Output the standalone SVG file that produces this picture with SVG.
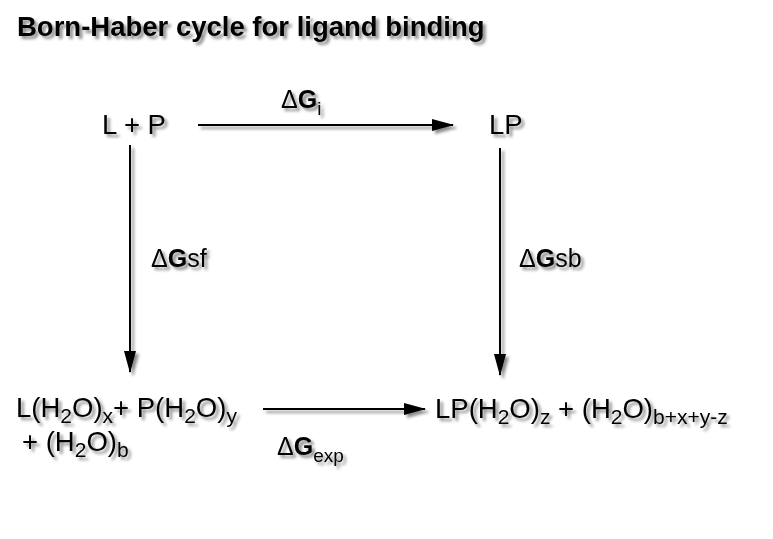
<svg xmlns="http://www.w3.org/2000/svg" width="773" height="539" viewBox="0 0 773 539">
<defs>
<filter id="sh" x="-10%" y="-30%" width="130%" height="180%">
<feDropShadow dx="3" dy="3" stdDeviation="1.8" flood-color="#000" flood-opacity="0.45"/>
</filter>
<marker id="ah" markerWidth="22" markerHeight="12" refX="21" refY="6" orient="auto" markerUnits="userSpaceOnUse">
<path d="M0,0 L22,6 L0,12 Z" fill="#000"/>
</marker>
</defs>
<style>
text{font-family:"Liberation Sans",Arial,sans-serif;fill:#000}
.t{font-size:27.5px}
.l{font-size:25px}
.b{font-weight:bold}
.s{font-size:21px}
.ls{font-size:19px}
.c{stroke:#000;stroke-width:2;fill:none;marker-end:url(#ah)}
</style>
<rect width="773" height="539" fill="#fff"/>
<g filter="url(#sh)">
<text id="title" x="17" y="36" class="b" font-size="27.5">Born-Haber cycle for ligand binding</text>
<g id="connectors">
<line class="c" x1="198" y1="125" x2="453" y2="125"/>
<line class="c" x1="130" y1="145" x2="130" y2="372"/>
<line class="c" x1="500" y1="148" x2="500" y2="375"/>
<line class="c" x1="263" y1="409" x2="425" y2="409"/>
</g>
<g id="n-lp-free"><text class="t" x="102" y="134">L + P</text></g>
<g id="n-lp"><text class="t" x="489" y="134">LP</text></g>
<g id="n-solv-free">
<text class="t" x="16" y="417">L(H<tspan class="s" dy="6">2</tspan><tspan dy="-6">O)</tspan><tspan class="s" dy="6">x</tspan><tspan dy="-6">+ P(H</tspan><tspan class="s" dy="6">2</tspan><tspan dy="-6">O)</tspan><tspan class="s" dy="6">y</tspan></text>
<text class="t" x="22" y="451">+ (H<tspan class="s" dy="6">2</tspan><tspan dy="-6">O)</tspan><tspan class="s" dy="6">b</tspan></text>
</g>
<g id="n-solv-lp">
<text class="t" x="435" y="418">LP(H<tspan class="s" dy="6">2</tspan><tspan dy="-6">O)</tspan><tspan class="s" dy="6">z</tspan><tspan dy="-6"> + (H</tspan><tspan class="s" dy="6">2</tspan><tspan dy="-6">O)</tspan><tspan class="s" dy="6" font-size="22px">b+x+y-z</tspan></text>
</g>
<g id="lbl-gi"><text class="l" x="281" y="108">Δ<tspan class="b">G</tspan><tspan class="ls" dy="7">i</tspan></text></g>
<g id="lbl-gsf"><text class="l" x="151" y="267">Δ<tspan class="b">G</tspan>sf</text></g>
<g id="lbl-gsb"><text class="l" x="519" y="267">Δ<tspan class="b">G</tspan>sb</text></g>
<g id="lbl-gexp"><text class="l" x="277" y="455">Δ<tspan class="b">G</tspan><tspan class="ls" dy="7">exp</tspan></text></g>
</g>
</svg>
